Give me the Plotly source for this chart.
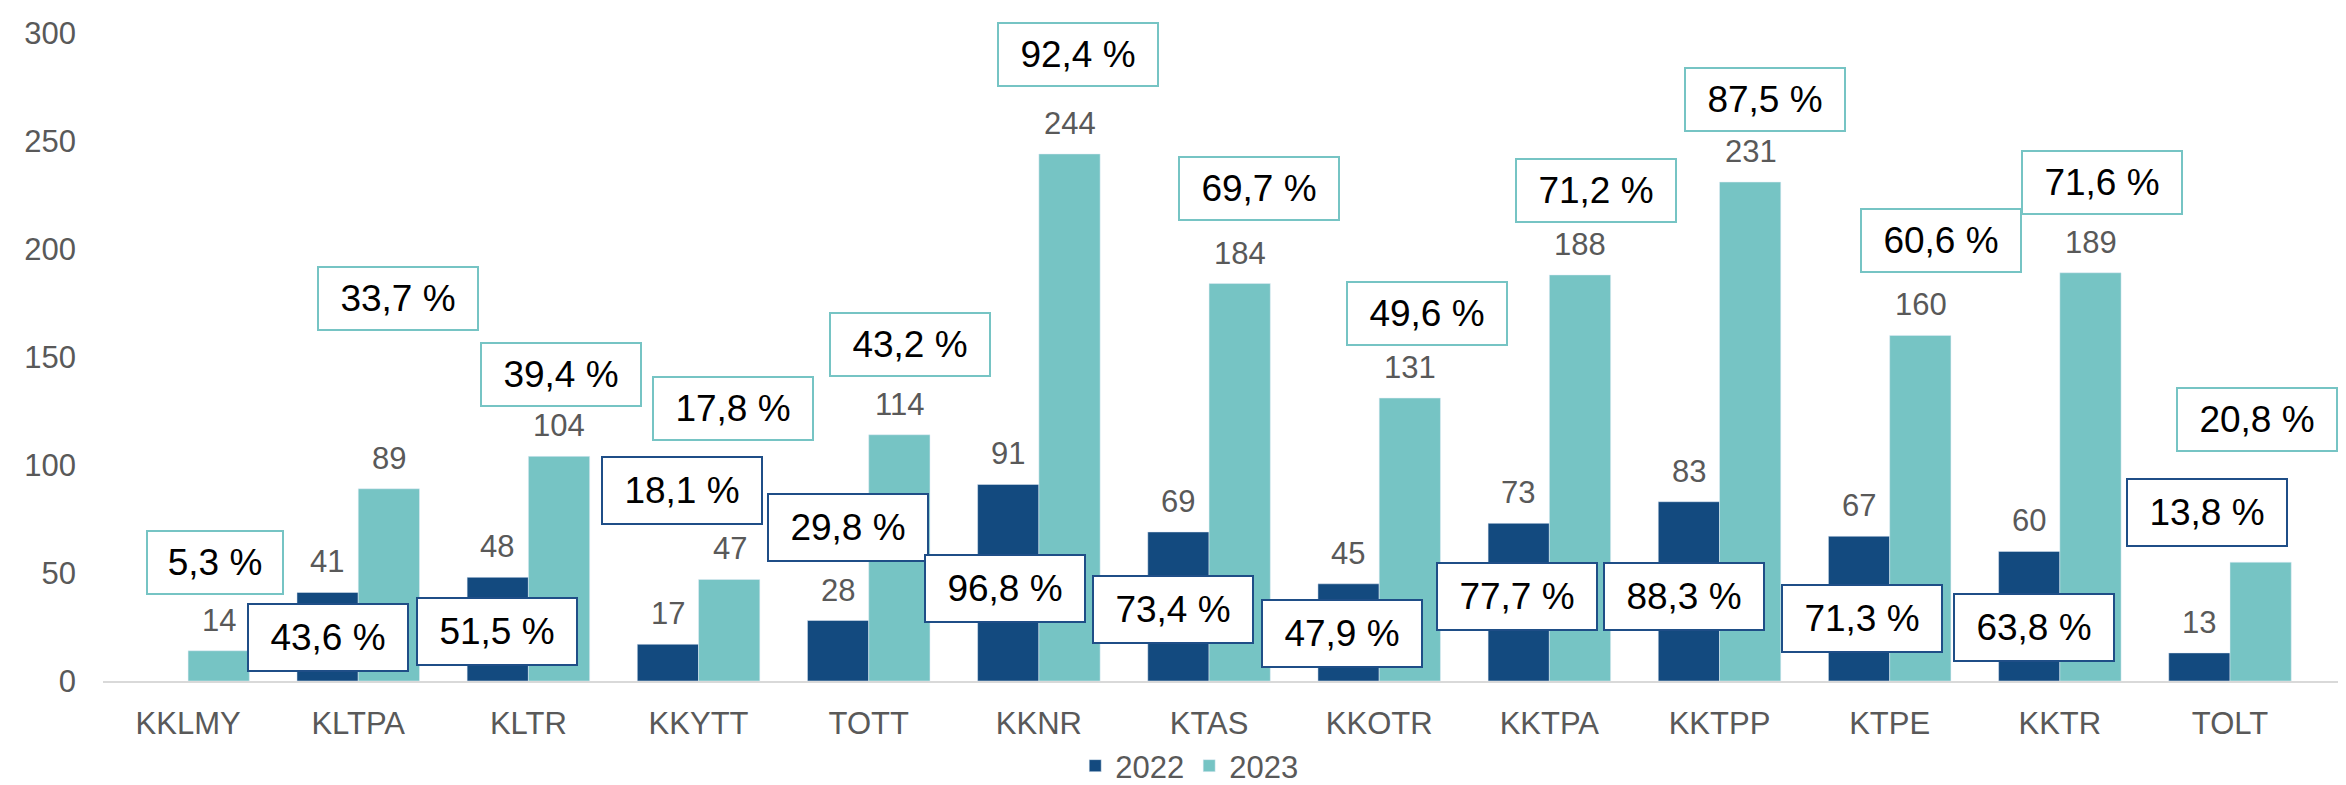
import plotly.graph_objects as go

categories = ["KKLMY", "KLTPA", "KLTR", "KKYTT", "TOTT", "KKNR", "KTAS",
              "KKOTR", "KKTPA", "KKTPP", "KTPE", "KKTR", "TOLT"]
values_2022 = [None, 41, 48, 17, 28, 91, 69, 45, 73, 83, 67, 60, 13]
values_2023 = [14, 89, 104, 47, 114, 244, 184, 131, 188, 231, 160, 189, 55]
# value labels shown in the chart (TOLT 2023 has none)
labels_2022 = [None, 41, 48, 17, 28, 91, 69, 45, 73, 83, 67, 60, 13]
labels_2023 = [14, 89, 104, 47, 114, 244, 184, 131, 188, 231, 160, 189, None]
share_2022 = [None, "43,6 %", "51,5 %", "18,1 %", "29,8 %", "96,8 %", "73,4 %",
              "47,9 %", "77,7 %", "88,3 %", "71,3 %", "63,8 %", "13,8 %"]
share_2023 = ["5,3 %", "33,7 %", "39,4 %", "17,8 %", "43,2 %", "92,4 %", "69,7 %",
              "49,6 %", "71,2 %", "87,5 %", "60,6 %", "71,6 %", "20,8 %"]

# where the percentage boxes sit (y in axis units, x shift in px)
box23_y = [55, 177, 142, 126, 156, 290, 228, 170, 227, 269, 204, 231, 121]
box23_dx = [27, 40, 33, 34, 41, 39, 50, 48, 47, 45, 51, 42, 27]
box22_y = [None, 20, 23, 88, 71, 43, 33, 22, 39, 39, 29, 25, 78]
box22_dx = [None, -30, -31, -17, -21, -34, -36, -37, -32, -36, -28, -26, -23]

DARK = "#134A7F"
TEAL = "#76C4C4"
GREY = "#595959"
FONT = "Liberation Sans, Arial, sans-serif"

fig = go.Figure()
fig.add_trace(go.Bar(x=categories, y=values_2022, name="2022", marker_color=DARK))
fig.add_trace(go.Bar(x=categories, y=values_2023, name="2023", marker_color=TEAL))

annotations = []
for cat, v, dx in [(c, v, -31) for c, v in zip(categories, labels_2022)] + \
                  [(c, v, 31) for c, v in zip(categories, labels_2023)]:
    if v is None:
        continue
    annotations.append(dict(x=cat, y=v, text=str(v), showarrow=False, xshift=dx,
                            yanchor="bottom", yshift=11,
                            font=dict(size=31, color=GREY, family=FONT)))

def add_boxes(texts, ys, dxs, color, height):
    for cat, t, y, dx in zip(categories, texts, ys, dxs):
        if t is None:
            continue
        annotations.append(dict(x=cat, y=y, text=t, showarrow=False, xshift=dx,
                                yanchor="middle", width=24 * len(t) + 6, height=height,
                                bgcolor="white", bordercolor=color, borderwidth=2,
                                borderpad=4, font=dict(size=37, color="black", family=FONT)))

add_boxes(share_2023, box23_y, box23_dx, TEAL, 53)
add_boxes(share_2022, box22_y, box22_dx, "#1F4E87", 57)

fig.update_layout(
    width=2346, height=785,
    margin=dict(l=95, r=16, t=25, b=112, autoexpand=False),
    paper_bgcolor="white", plot_bgcolor="white",
    barmode="group", bargap=0.28, bargroupgap=0,
    font=dict(family=FONT, size=31, color=GREY),
    showlegend=True,
    legend=dict(orientation="h", x=0.486, xanchor="center",
                yref="container", y=-0.012, yanchor="bottom",
                font=dict(size=31, color=GREY), itemwidth=30),
    annotations=annotations,
)
fig.update_xaxes(showline=True, linecolor="#D9D9D9", linewidth=2, showgrid=False,
                 ticks="", tickfont=dict(size=31, color=GREY), ticklabelstandoff=14)
fig.update_yaxes(range=[0, 300], dtick=50, showgrid=False, zeroline=False, showline=False,
                 ticks="", tickfont=dict(size=31, color=GREY), ticklabelstandoff=26)

fig.write_html("out.html")
